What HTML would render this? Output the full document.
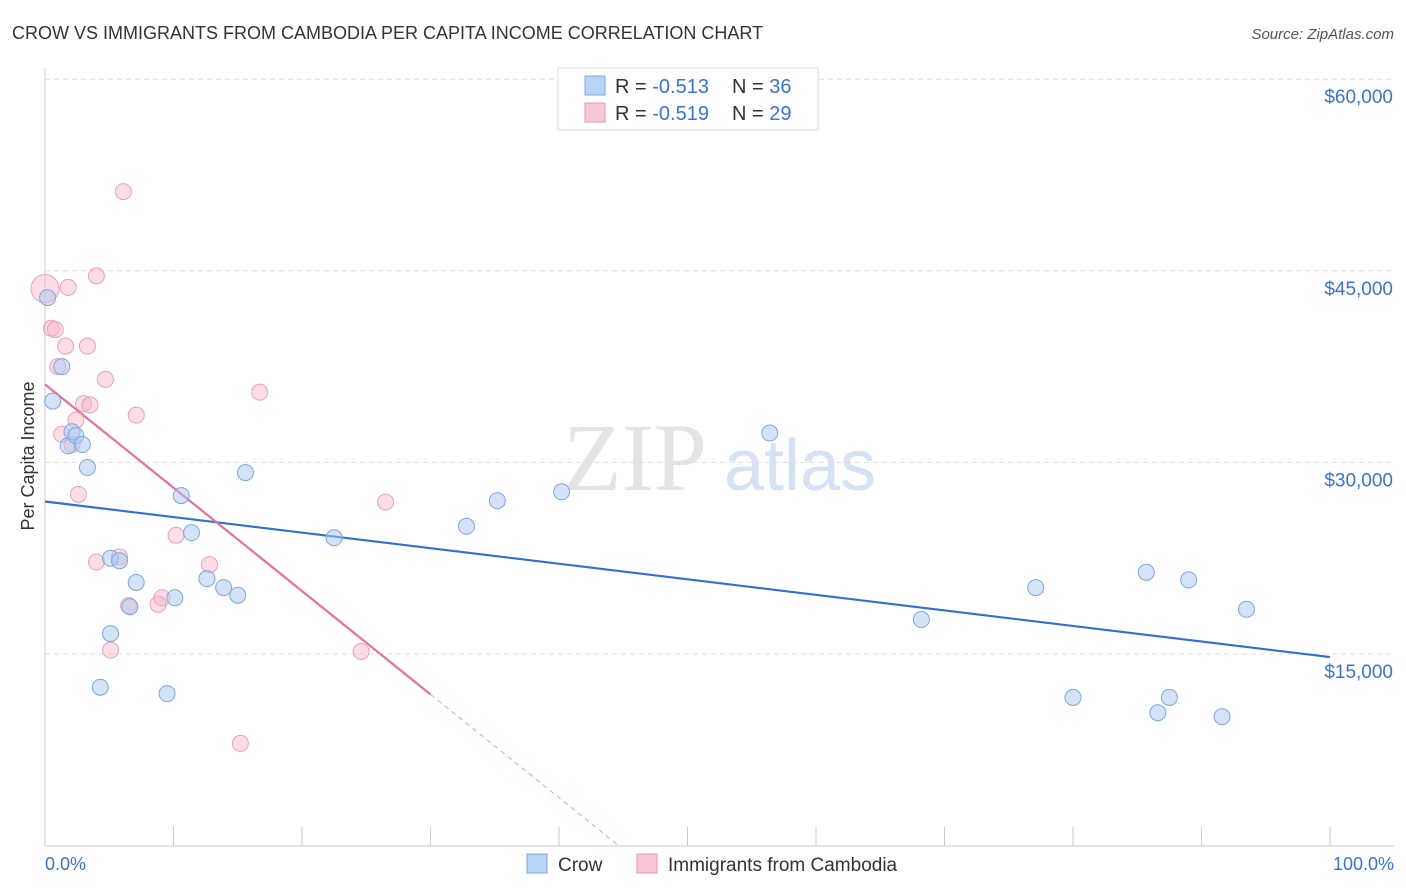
<!DOCTYPE html>
<html><head><meta charset="utf-8"><style>
body{margin:0;background:#fff;font-family:"Liberation Sans",sans-serif;}
svg{display:block}
</style></head><body>
<svg id="chart" width="1406" height="892" font-family="Liberation Sans, sans-serif">
<text x="12" y="39" font-size="18" fill="#333">CROW VS IMMIGRANTS FROM CAMBODIA PER CAPITA INCOME CORRELATION CHART</text>
<text x="1394" y="39" font-size="15" fill="#555" font-style="italic" text-anchor="end">Source: ZipAtlas.com</text>
<text x="635" y="490" font-size="96" fill="#e4e4e4" font-family="Liberation Serif, serif" text-anchor="middle">ZIP</text>
<text x="800" y="490" font-size="72" fill="#d5e2f3" text-anchor="middle">atlas</text>
<g id="grid"></g>
<line x1="45" y1="68" x2="45" y2="846" stroke="#ccc"/>
<line x1="45" y1="846" x2="1394" y2="846" stroke="#ccc"/>
<g id="xticks"></g>
<text x="45" y="870" font-size="18" fill="#3b73d4">0.0%</text>
<text x="1394" y="870" font-size="18" fill="#3b73d4" text-anchor="end">100.0%</text>
<text transform="translate(34,456) rotate(-90)" font-size="18" fill="#333" text-anchor="middle">Per Capita Income</text>
<g id="lines"></g>
<g id="points"></g>
<g>
<rect x="558" y="68" width="260" height="62" fill="#fff" stroke="#ddd"/>
<rect x="585" y="76" width="20" height="19" fill="#b9d3f5" stroke="#7aa7e6"/>
<rect x="585" y="103" width="20" height="19" fill="#f9c8d6" stroke="#ec93ad"/>
<text x="615" y="93" font-size="20" fill="#333">R = <tspan fill="#3b73d4">-0.513</tspan><tspan x="732">N = </tspan><tspan fill="#3b73d4">36</tspan></text>
<text x="615" y="120" font-size="20" fill="#333">R = <tspan fill="#3b73d4">-0.519</tspan><tspan x="732">N = </tspan><tspan fill="#3b73d4">29</tspan></text>
</g>
<g>
<rect x="527" y="854" width="20" height="19" fill="#b9d3f5" stroke="#7aa7e6"/>
<text x="558" y="871" font-size="19" fill="#333">Crow</text>
<rect x="637" y="854" width="20" height="19" fill="#f9c8d6" stroke="#ec93ad"/>
<text x="668" y="871" font-size="19" fill="#333">Immigrants from Cambodia</text>
</g>
</svg>
<script>
const yTicks=[15000,30000,45000,60000];
const yTickLabels=["$15,000","$30,000","$45,000","$60,000"];
const crowX=[0.2,0.6,1.3,1.8,2.1,2.4,2.9,3.3,4.3,5.1,5.1,5.8,6.6,7.1,9.5,10.1,10.6,11.4,12.6,13.9,15.0,15.6,22.5,32.8,35.2,40.2,56.4,68.2,77.1,80.0,85.7,86.6,87.5,89.0,91.6,93.5];
const crowY=[42900,34800,37500,31300,32400,32100,31400,29600,12400,22500,16600,22300,18700,20600,11900,19400,27400,24500,20900,20200,19600,29200,24100,25000,27000,27700,32300,17700,20200,11600,21400,10400,11600,20800,10100,18500];
const cambX=[0,0.5,0.8,1.6,1.8,1.0,1.3,2.1,2.4,2.6,3.0,3.3,3.5,4.0,4.0,4.7,5.1,5.8,6.1,6.5,7.1,8.8,9.1,10.2,12.8,15.2,16.7,24.6,26.5];
const cambY=[43600,40500,40400,39100,43700,37500,32200,31400,33300,27500,34600,39100,34500,44600,22200,36500,15300,22600,51200,18800,33700,18900,19400,24300,22000,8000,35500,15200,26900];
const NS="http://www.w3.org/2000/svg";
const X=p=>45+p*12.85, Y=v=>654-(v-15000)*191.6/15000;
function mk(tag,attrs,parent){const e=document.createElementNS(NS,tag);for(const k in attrs)e.setAttribute(k,attrs[k]);document.getElementById(parent).appendChild(e);return e;}
yTicks.forEach((v,i)=>{
 const l=mk('line',{x1:45,x2:1394,y1:Y(v),y2:Y(v),stroke:'#ddd','stroke-dasharray':'5,4'},'grid');
 
 
 const t=mk('text',{x:1393,y:Y(v)+24,'font-size':19,fill:'#3b73d4','text-anchor':'end'},'grid');
 t.textContent=yTickLabels[i];
 
 
});
for(let i=0;i<=10;i++){
 const l=mk('line',{x1:X(i*10),x2:X(i*10),y1:827,y2:846,stroke:'#ccc'},'xticks');
 
 
}
function reg(xs,ys){const n=xs.length;let mx=0,my=0;xs.forEach((x,i)=>{mx+=x;my+=ys[i]});mx/=n;my/=n;let sxy=0,sxx=0;xs.forEach((x,i)=>{sxy+=(x-mx)*(ys[i]-my);sxx+=(x-mx)**2});const b=sxy/sxx;return[my-b*mx,b];}
const [ca,cb]=reg(crowX,crowY);
let l1=mk('line',{x1:X(0),y1:Y(ca),x2:X(100),y2:Y(ca+cb*100),stroke:'#2f6fd6','stroke-width':2.2},'lines');


const [pa,pb]=reg(cambX,cambY);
const xEnd=30, xZero=-pa/pb;
let l2=mk('line',{x1:X(0),y1:Y(pa),x2:X(xEnd),y2:Y(pa+pb*xEnd),stroke:'#e8709a','stroke-width':2.2},'lines');


let l3=mk('line',{x1:X(xEnd),y1:Y(pa+pb*xEnd),x2:X(xZero),y2:Y(0),stroke:'#e8a0b8','stroke-width':1,'stroke-dasharray':'5,4'},'lines');


cambX.forEach((x,i)=>{
 const c=mk('circle',{cx:X(x),cy:Y(cambY[i]),r:i===0?14:8,fill:'rgba(246,180,200,0.45)',stroke:'#eea0b8','stroke-width':1},'points');
 
 
});
crowX.forEach((x,i)=>{
 const c=mk('circle',{cx:X(x),cy:Y(crowY[i]),r:8,fill:'rgba(170,200,240,0.5)',stroke:'#7aa7e6','stroke-width':1},'points');
 
 
});
</script>
</body></html>
